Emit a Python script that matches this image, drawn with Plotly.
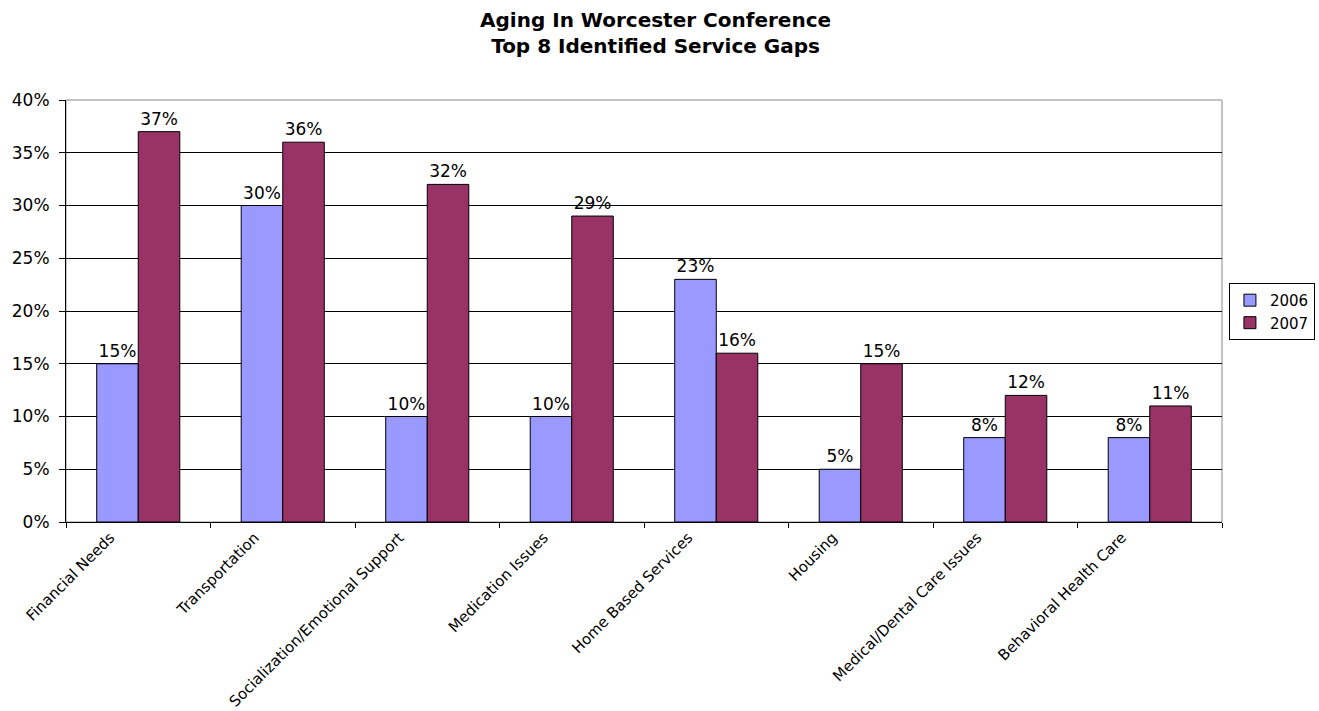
import plotly.graph_objects as go

categories = [
    "Financial Needs",
    "Transportation",
    "Socialization/Emotional Support",
    "Medication Issues",
    "Home Based Services",
    "Housing",
    "Medical/Dental Care Issues",
    "Behavioral Health Care",
]
values_2006 = [15, 30, 10, 10, 23, 5, 8, 8]
values_2007 = [37, 36, 32, 29, 16, 15, 12, 11]
y_ticks = [0, 5, 10, 15, 20, 25, 30, 35, 40]

FONT = "DejaVu Sans, Liberation Sans, Arial, sans-serif"

fig = go.Figure()
for name, vals, color in [("2006", values_2006, "#9999FF"), ("2007", values_2007, "#993366")]:
    fig.add_trace(go.Bar(
        name=name,
        x=categories,
        y=[v / 100 for v in vals],
        marker=dict(color=color, line=dict(color="#000000", width=1)),
        text=[f"{v}%" for v in vals],
        textposition="outside",
        textfont=dict(family=FONT, size=17, color="#000000"),
        cliponaxis=False,
    ))

fig.update_layout(
    width=1319,
    height=711,
    margin=dict(l=66, r=97, t=100, b=189, autoexpand=False),
    paper_bgcolor="white",
    plot_bgcolor="white",
    barmode="group",
    bargap=0.425,
    bargroupgap=0,
    font=dict(family=FONT, size=15, color="#000000"),
    title=dict(
        text="<b>Aging In Worcester Conference<br>Top 8 Identified Service Gaps</b>",
        x=0.497, xanchor="center",
        y=0.962, yanchor="top",
        font=dict(family=FONT, size=20, color="#000000"),
    ),
    legend=dict(
        x=1.006, xanchor="left",
        y=0.499, yanchor="middle",
        bordercolor="#000000", borderwidth=1,
        font=dict(family=FONT, size=15),
        tracegroupgap=0,
        itemwidth=30,
    ),
    showlegend=True,
)

fig.update_xaxes(
    type="category",
    tickangle=-45,
    tickson="boundaries",
    ticks="outside",
    ticklen=5,
    tickcolor="#000000",
    ticklabelshift=-28,
    showline=True,
    linecolor="#000000",
    linewidth=1,
    showgrid=False,
    tickfont=dict(family=FONT, size=15),
)
fig.update_yaxes(
    range=[0, 0.4],
    tickvals=[t / 100 for t in y_ticks],
    ticktext=[f"{t}%" for t in y_ticks],
    ticks="outside",
    ticklen=6,
    tickcolor="#000000",
    ticklabelstandoff=6,
    showline=True,
    linecolor="#000000",
    linewidth=1,
    showgrid=True,
    gridcolor="#000000",
    gridwidth=1,
    zeroline=False,
    tickfont=dict(family=FONT, size=17),
)

# light frame along the top and right of the plotting area
fig.add_shape(type="rect", xref="paper", yref="paper", x0=0, y0=0, x1=1, y1=1,
              line=dict(color="#888888", width=1), layer="below")

fig.write_html("out.html")
